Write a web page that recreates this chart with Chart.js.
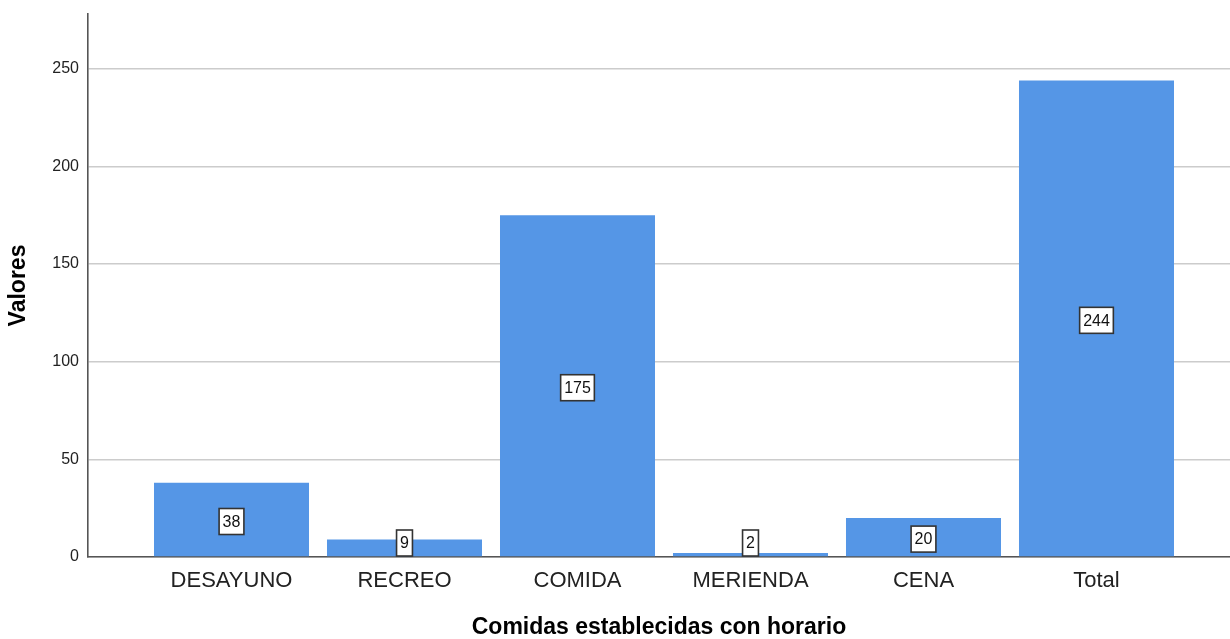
<!DOCTYPE html>
<html lang="es">
<head>
    <meta charset="UTF-8">
    <title>Comidas establecidas con horario</title>
    <script src="https://cdn.jsdelivr.net/npm/chart.js"></script>
    <style>
        body { margin: 0; background: #fff; }
        #wrap { width: 1230px; height: 639px; }
    </style>
</head>
<body>
    <div id="wrap"><canvas id="chart" width="1230" height="639"></canvas></div>

    <script>
        // Datos del gráfico
        const categorias = ['DESAYUNO', 'RECREO', 'COMIDA', 'MERIENDA', 'CENA', 'Total'];
        const valores = [38, 9, 175, 2, 20, 244];
        const ticksY = [0, 50, 100, 150, 200, 250];

        // Etiquetas en caja blanca en el centro de cada barra
        const etiquetas = {
            id: 'etiquetas',
            afterDatasetsDraw(chart) {
                const ctx = chart.ctx;
                const meta = chart.getDatasetMeta(0);
                const base = chart.scales.y.getPixelForValue(0);
                ctx.save();
                ctx.font = '16px "Liberation Sans", Arial, sans-serif';
                ctx.textAlign = 'center';
                ctx.textBaseline = 'middle';
                meta.data.forEach((bar, i) => {
                    const txt = String(valores[i]);
                    const w = ctx.measureText(txt).width + 7;
                    const h = 26;
                    let cy = (bar.y + bar.base) / 2 + 2;
                    cy = Math.min(cy, base - h / 2 - 1);
                    ctx.fillStyle = '#fff';
                    ctx.fillRect(bar.x - w / 2, cy - h / 2, w, h);
                    ctx.strokeStyle = '#333';
                    ctx.lineWidth = 1.6;
                    ctx.strokeRect(bar.x - w / 2, cy - h / 2, w, h);
                    ctx.fillStyle = '#111';
                    ctx.fillText(txt, bar.x, cy + 1);
                });
                ctx.restore();
            }
        };

        new Chart(document.getElementById('chart'), {
            type: 'bar',
            data: {
                datasets: [{
                    data: valores.map((v, i) => ({ x: i, y: v })),
                    backgroundColor: 'rgb(85, 150, 230)',
                    borderWidth: 0,
                    barPercentage: 0.896,
                    categoryPercentage: 1
                }]
            },
            options: {
                responsive: false,
                animation: false,
                layout: { padding: { top: 14, right: 0, left: 0, bottom: 0 } },
                plugins: { legend: { display: false }, tooltip: { enabled: false } },
                scales: {
                    x: {
                        type: 'linear',
                        offset: false,
                        min: -0.8295,
                        max: 5.7717,
                        afterBuildTicks: s => { s.ticks = categorias.map((c, i) => ({ value: i })); },
                        afterFit: s => { s.height = 82; s.paddingLeft = 0; s.paddingRight = 0; },
                        grid: { display: false, offset: false },
                        border: { display: true, color: '#555', width: 1.6 },
                        ticks: {
                            callback: v => categorias[v],
                            font: { size: 22, family: '"Liberation Sans", Arial, sans-serif' },
                            color: '#222',
                            padding: 3,
                            maxRotation: 0,
                            autoSkip: false
                        },
                        title: {
                            display: true,
                            text: 'Comidas establecidas con horario',
                            font: { size: 23, weight: 'bold', family: '"Liberation Sans", Arial, sans-serif', lineHeight: 1 },
                            color: '#000',
                            padding: { top: 0, bottom: 0 }
                        }
                    },
                    y: {
                        min: 0,
                        max: 278,
                        afterBuildTicks: s => { s.ticks = ticksY.map(v => ({ value: v })); },
                        afterFit: s => { s.width = 88; s.paddingTop = 0; s.paddingBottom = 0; },
                        grid: { color: '#cccccc', lineWidth: 1.5, drawTicks: false },
                        border: { display: true, color: '#555', width: 1.6 },
                        ticks: {
                            font: { size: 16, family: '"Liberation Sans", Arial, sans-serif' },
                            color: '#222',
                            padding: 9
                        },
                        title: {
                            display: true,
                            text: 'Valores',
                            font: { size: 23, weight: 'bold', family: '"Liberation Sans", Arial, sans-serif' },
                            color: '#000',
                            padding: { top: 5, bottom: 0 }
                        }
                    }
                }
            },
            plugins: [etiquetas]
        });
    </script>
</body>
</html>
